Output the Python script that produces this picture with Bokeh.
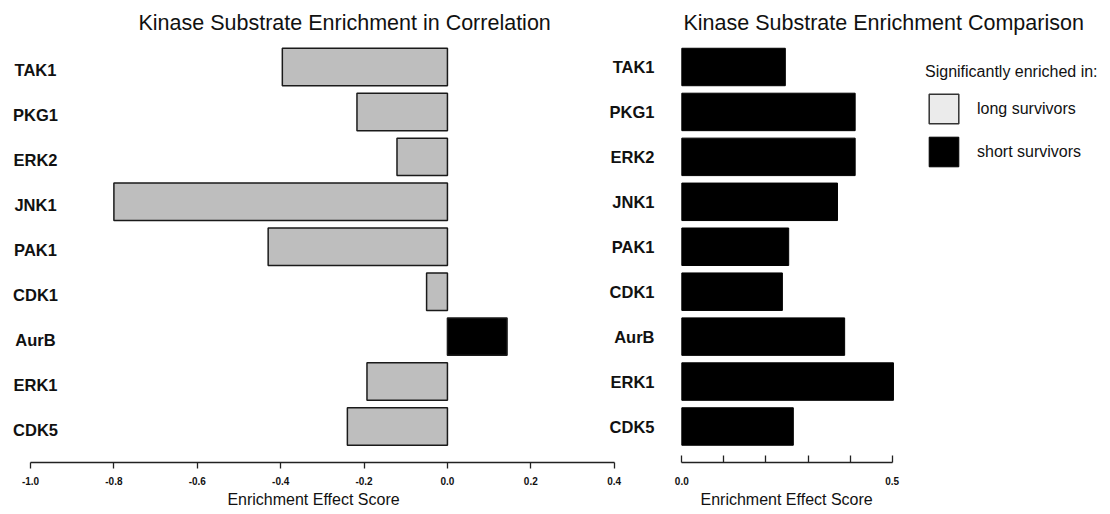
from bokeh.plotting import figure
from bokeh.models import (Range1d, FixedTicker, PrintfTickFormatter, ColumnDataSource,
                          Legend, LegendItem, Title)
from bokeh.layouts import row
from bokeh.embed import file_html
from bokeh.resources import INLINE
from bokeh.core.properties import value

# ---------------- data ----------------
kinases = ["TAK1", "PKG1", "ERK2", "JNK1", "PAK1", "CDK1", "AurB", "ERK1", "CDK5"]
correlation_scores = [-0.396, -0.217, -0.121, -0.800, -0.430, -0.050, 0.143, -0.193, -0.240]
comparison_scores = [0.246, 0.412, 0.412, 0.370, 0.254, 0.239, 0.387, 0.503, 0.265]
left_ticks = [-1.0, -0.8, -0.6, -0.4, -0.2, 0.0, 0.2, 0.4]
right_ticks = [0.0, 0.1, 0.2, 0.3, 0.4, 0.5]
right_tick_labels = ["0.0", "", "", "", "", "0.5"]
legend_title = "Significantly enriched in:"
legend_labels = ["long survivors", "short survivors"]
x_title = "Enrichment Effect Score"

# ---------------- style ----------------
FONT = "Liberation Sans"
LONG_FILL = "#bebebe"
LONG_LEGEND = "#ebebeb"
SHORT_FILL = "#000000"
INK = "#222222"
TXT = "#111111"
H = 512
BAR_H = 0.834
Y_RANGE = (8.801, -0.634)

pos = list(range(len(kinases)))


def style_common(p):
    p.grid.visible = False
    p.outline_line_color = None
    p.title.text_font = FONT
    p.title.text_font_size = "21.5px"
    p.title.text_font_style = "normal"
    p.title.text_color = TXT
    p.title.align = "left"
    p.title.standoff = 8


def style_xaxis(ax):
    ax.axis_line_color = INK
    ax.axis_line_width = 1.3
    ax.major_tick_line_color = INK
    ax.major_tick_line_width = 1.3
    ax.minor_tick_line_color = None
    ax.major_label_text_font = FONT
    ax.major_label_text_font_size = "10px"
    ax.major_label_text_font_style = "bold"
    ax.major_label_text_color = TXT


# ---------------- left panel ----------------
p1 = figure(width=626, height=H,
            x_range=Range1d(-1.048, 0.4055), y_range=Range1d(*Y_RANGE),
            y_axis_location=None, toolbar_location=None, output_backend="svg",
            min_border_left=10, min_border_right=10, min_border_top=38, min_border_bottom=50,
            title="Kinase Substrate Enrichment in Correlation")
style_common(p1)
p1.title.offset = 128

colors = [LONG_FILL if v < 0 else SHORT_FILL for v in correlation_scores]
src1 = ColumnDataSource(dict(y=pos, right=correlation_scores, name=kinases, color=colors))
p1.hbar(y="y", left=0, right="right", height=BAR_H, fill_color="color",
        line_color="#1a1a1a", line_width=1.5, source=src1)
label_x = left_ticks[0]
p1.text(x=label_x, y="y", text="name", source=src1, x_offset=5, y_offset=3,
        text_align="center", text_baseline="middle", text_font=value(FONT),
        text_font_size="16.5px", text_font_style="bold", text_color=TXT)

ax1 = p1.xaxis[0]
ax1.bounds = (left_ticks[0], left_ticks[-1])
ax1.ticker = FixedTicker(ticks=left_ticks)
ax1.formatter = PrintfTickFormatter(format="%.1f")
ax1.major_tick_in = 0
ax1.major_tick_out = 6
ax1.major_label_standoff = 8
style_xaxis(ax1)
ax1.axis_label = x_title
ax1.axis_label_text_font = FONT
ax1.axis_label_text_font_size = "16px"
ax1.axis_label_text_font_style = "normal"
ax1.axis_label_text_color = TXT
ax1.axis_label_standoff = 3

# ---------------- right panel ----------------
p2 = figure(width=502, height=H,
            x_range=Range1d(-0.0459, 0.9998), y_range=Range1d(*Y_RANGE),
            toolbar_location=None, output_backend="svg",
            min_border_left=60, min_border_right=2, min_border_top=38, min_border_bottom=50,
            title="Kinase Substrate Enrichment Comparison",
            margin=(0, 0, 0, -24))
style_common(p2)
p2.title.offset = 21
p2.background_fill_alpha = 0
p2.border_fill_alpha = 0

src2 = ColumnDataSource(dict(y=pos, right=comparison_scores))
p2.hbar(y="y", left=0, right="right", height=BAR_H, fill_color=SHORT_FILL,
        line_color=SHORT_FILL, line_width=1, source=src2)

ay2 = p2.yaxis[0]
ay2.ticker = FixedTicker(ticks=pos)
ay2.major_label_overrides = {i: k for i, k in zip(pos, kinases)}
ay2.major_tick_in = 0
ay2.major_tick_out = 0
ay2.minor_tick_line_color = None
ay2.axis_line_color = None
ay2.major_label_standoff = 8
ay2.major_label_text_font = FONT
ay2.major_label_text_font_size = "16.5px"
ay2.major_label_text_font_style = "bold"
ay2.major_label_text_color = TXT

ax2 = p2.xaxis[0]
ax2.bounds = (right_ticks[0], right_ticks[-1])
ax2.ticker = FixedTicker(ticks=right_ticks)
ax2.major_label_overrides = {t: s for t, s in zip(right_ticks, right_tick_labels)}
ax2.major_tick_in = 7
ax2.major_tick_out = 0
ax2.major_label_standoff = 14
style_xaxis(ax2)

# axis title for the right panel, centred under the 0.0-0.5 axis
p2.add_layout(Title(text=x_title, align="left", offset=38, standoff=3,
                    text_font=FONT, text_font_size="16px", text_font_style="normal",
                    text_color=TXT), "below")

# legend: hidden proxy renderers carry the legend swatches
proxy = ColumnDataSource(dict(y=[0], left=[0], right=[0]))
r_long = p2.hbar(y="y", left="left", right="right", height=BAR_H, source=proxy,
                 fill_color=LONG_LEGEND, line_color="#333333", line_width=1.5, visible=False)
r_short = p2.hbar(y="y", left="left", right="right", height=BAR_H, source=proxy,
                  fill_color=SHORT_FILL, line_color=SHORT_FILL, visible=False)
legend = Legend(items=[LegendItem(label=legend_labels[0], renderers=[r_long]),
                       LegendItem(label=legend_labels[1], renderers=[r_short])],
                title=legend_title, location=(263, 292),
                glyph_width=37, glyph_height=37, label_height=37, spacing=6,
                label_standoff=15, padding=0, margin=0,
                border_line_color=None, background_fill_alpha=0,
                title_standoff=9,
                label_text_font=FONT, label_text_font_size="16px", label_text_color=TXT,
                title_text_font=FONT, title_text_font_size="16px",
                title_text_font_style="normal", title_text_color=TXT)
p2.add_layout(legend)

layout = row(p1, p2)
open("out.html", "w").write(file_html(layout, INLINE))
